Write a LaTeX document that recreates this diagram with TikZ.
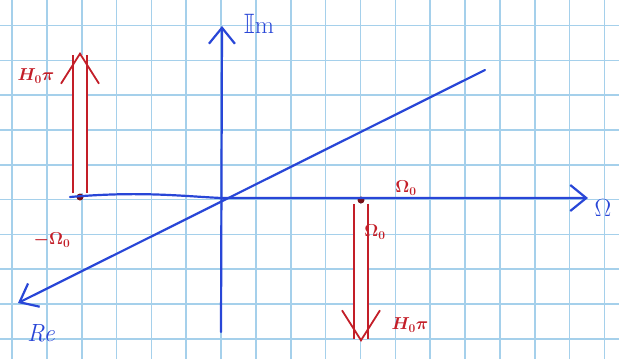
\documentclass[tikz,border=0pt]{standalone}
\usepackage{amssymb}
\usetikzlibrary{arrows.meta}
\definecolor{gridblue}{RGB}{165,208,235}
\definecolor{penblue}{RGB}{40,70,215}
\definecolor{penred}{RGB}{195,30,40}
\tikzset{
  axis/.style={penblue, line width=2.2pt, -{Straight Barb[length=16pt,width=26pt,line width=2.2pt]}, line cap=round},
  redarrow/.style={penred, line width=1.8pt, double=white, double distance=12pt, -{Straight Barb[length=30pt,width=38pt,line width=1.8pt]}},
  redlabel/.style={penred, font=\LARGE\boldmath},
  bluelabel/.style={penblue, font=\fontsize{28}{30}\selectfont},
  dot/.style={circle, fill=penred!60!black, inner sep=0pt, minimum size=7pt},
}
\begin{document}
\begin{tikzpicture}[x=1pt,y=-1pt]
\useasboundingbox (0,0) rectangle (619,359);
\fill[white] (0,0) rectangle (619,359);
% grid
\foreach \i in {0,...,17} {\draw[gridblue, line width=1.6pt] ({12+34.85*\i},0) -- ({12+34.85*\i},359);}
\foreach \j in {0,...,9} {\draw[gridblue, line width=1.6pt] (0,{25.5+34.8*\j}) -- (619,{25.5+34.8*\j});}
% coordinates
\coordinate (hstart) at (70,197);
\coordinate (hend) at (588,198);
\coordinate (vstart) at (221,332);
\coordinate (vend) at (222,26);
\coordinate (dstart) at (485,70);
\coordinate (dend) at (18,303);
\node[dot] (mO) at (80,197) {};
\node[dot] (pO) at (361,200) {};
\coordinate (uptip) at (80,52);
\coordinate (downtip) at (361,342);
% axes
\draw[axis] (hstart) .. controls (140,191) and (180,196) .. (221,198) -- (hend);
\draw[axis] (vstart) -- (vend);
\draw[axis] (dstart) -- (dend);
% red arrows
\draw[redarrow] (mO) -- (uptip);
\draw[redarrow] (pO) -- (downtip);
% labels
\node[bluelabel] (im) at (259,24) {$\mathbb{I}\mathrm{m}$};
\node[bluelabel] (om) at (603,208) {$\Omega$};
\node[bluelabel] (re) at (42,333) {$\mathit{Re}$};
\node[redlabel] (h1) at (36,76) {$H_0\pi$};
\node[redlabel] (h2) at (410,325) {$H_0\pi$};
\node[redlabel] (w1) at (52,240) {$-\Omega_0$};
\node[redlabel] (w2) at (406,188) {$\Omega_0$};
\node[redlabel] (w3) at (375,232) {$\Omega_0$};
\end{tikzpicture}
\end{document}
